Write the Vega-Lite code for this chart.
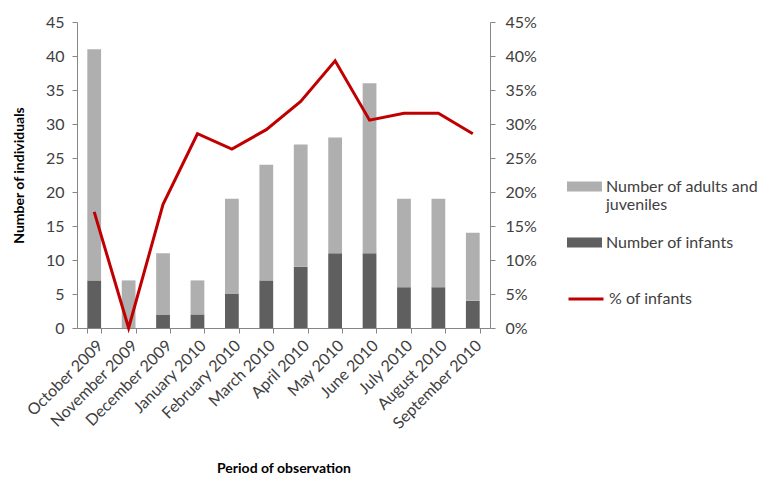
{
  "$schema": "https://vega.github.io/schema/vega-lite/v6.json",
  "width": 413,
  "height": 306,
  "autosize": "none",
  "padding": {"left": 77, "top": 22, "right": 277, "bottom": 152},
  "background": "white",
  "config": {
    "font": "Lato",
    "view": {"stroke": null},
    "axis": {
      "labelFont": "Lato",
      "labelFontSize": 16,
      "labelColor": "#404040",
      "labelPadding": 5,
      "titleFont": "Lato",
      "titleFontSize": 14,
      "titleFontWeight": "bold",
      "titleColor": "#000000",
      "domainColor": "#868686",
      "tickColor": "#868686",
      "tickSize": 5,
      "grid": false
    },
    "legend": {
      "labelFont": "Lato",
      "labelFontSize": 16,
      "labelColor": "#404040"
    }
  },
  "datasets": {
    "counts": [
      {"month": "October 2009", "series": "Number of infants", "value": 7},
      {"month": "October 2009", "series": "Number of adults and juveniles", "value": 34},
      {"month": "November 2009", "series": "Number of infants", "value": 0},
      {"month": "November 2009", "series": "Number of adults and juveniles", "value": 7},
      {"month": "December 2009", "series": "Number of infants", "value": 2},
      {"month": "December 2009", "series": "Number of adults and juveniles", "value": 9},
      {"month": "January 2010", "series": "Number of infants", "value": 2},
      {"month": "January 2010", "series": "Number of adults and juveniles", "value": 5},
      {"month": "February 2010", "series": "Number of infants", "value": 5},
      {"month": "February 2010", "series": "Number of adults and juveniles", "value": 14},
      {"month": "March 2010", "series": "Number of infants", "value": 7},
      {"month": "March 2010", "series": "Number of adults and juveniles", "value": 17},
      {"month": "April 2010", "series": "Number of infants", "value": 9},
      {"month": "April 2010", "series": "Number of adults and juveniles", "value": 18},
      {"month": "May 2010", "series": "Number of infants", "value": 11},
      {"month": "May 2010", "series": "Number of adults and juveniles", "value": 17},
      {"month": "June 2010", "series": "Number of infants", "value": 11},
      {"month": "June 2010", "series": "Number of adults and juveniles", "value": 25},
      {"month": "July 2010", "series": "Number of infants", "value": 6},
      {"month": "July 2010", "series": "Number of adults and juveniles", "value": 13},
      {"month": "August 2010", "series": "Number of infants", "value": 6},
      {"month": "August 2010", "series": "Number of adults and juveniles", "value": 13},
      {"month": "September 2010", "series": "Number of infants", "value": 4},
      {"month": "September 2010", "series": "Number of adults and juveniles", "value": 10}
    ],
    "pct": [
      {"month": "October 2009", "pct": 0.1707},
      {"month": "November 2009", "pct": 0},
      {"month": "December 2009", "pct": 0.1818},
      {"month": "January 2010", "pct": 0.2857},
      {"month": "February 2010", "pct": 0.2632},
      {"month": "March 2010", "pct": 0.2917},
      {"month": "April 2010", "pct": 0.3333},
      {"month": "May 2010", "pct": 0.3929},
      {"month": "June 2010", "pct": 0.3056},
      {"month": "July 2010", "pct": 0.3158},
      {"month": "August 2010", "pct": 0.3158},
      {"month": "September 2010", "pct": 0.2857}
    ]
  },
  "layer": [
    {
      "data": {"name": "counts"},
      "mark": {"type": "bar"},
      "encoding": {
        "x": {
          "field": "month",
          "type": "nominal",
          "sort": null,
          "scale": {"paddingInner": 0.6, "paddingOuter": 0.3},
          "axis": {
            "title": "Period of observation",
            "labelAngle": -45,
            "tickBand": "extent",
            "labelPadding": 4,
            "titlePadding": 30
          }
        },
        "y": {
          "field": "value",
          "type": "quantitative",
          "stack": "zero",
          "scale": {"domain": [0, 45], "nice": false},
          "axis": {
            "title": "Number of individuals",
            "values": [0, 5, 10, 15, 20, 25, 30, 35, 40, 45],
            "labelPadding": 8,
            "titlePadding": 19
          }
        },
        "color": {
          "field": "series",
          "type": "nominal",
          "scale": {
            "domain": ["Number of adults and juveniles", "Number of infants"],
            "range": ["#AFAFAF", "#5F5F5F"]
          },
          "legend": {
            "title": null,
            "orient": "none",
            "legendX": 490,
            "legendY": 147,
            "symbolType": "M-1,-0.28H1V0.28H-1Z",
            "symbolSize": 1225,
            "symbolStrokeWidth": 0,
            "labelOffset": 4,
            "labelLimit": 300,
            "rowPadding": 12,
            "labelExpr": "datum.label == 'Number of adults and juveniles' ? ['Number of adults and', 'juveniles'] : datum.label"
          }
        },
        "order": {"field": "series", "sort": "descending"}
      }
    },
    {
      "data": {"name": "pct"},
      "mark": {"type": "line", "strokeWidth": 3},
      "encoding": {
        "x": {"field": "month", "type": "nominal", "sort": null},
        "y": {
          "field": "pct",
          "type": "quantitative",
          "scale": {"domain": [0, 0.45], "nice": false},
          "axis": {
            "title": null,
            "orient": "right",
            "format": ".0%",
            "labelPadding": 10,
            "values": [0, 0.05, 0.1, 0.15, 0.2, 0.25, 0.3, 0.35, 0.4, 0.45]
          }
        },
        "stroke": {
          "datum": "% of infants",
          "scale": {"range": ["#C00000"]},
          "legend": {
            "title": null,
            "orient": "none",
            "legendX": 490,
            "legendY": 258,
            "symbolType": "stroke",
            "symbolSize": 1225,
            "symbolStrokeWidth": 3,
            "labelOffset": 4
          }
        }
      }
    }
  ],
  "resolve": {"scale": {"y": "independent"}}
}
